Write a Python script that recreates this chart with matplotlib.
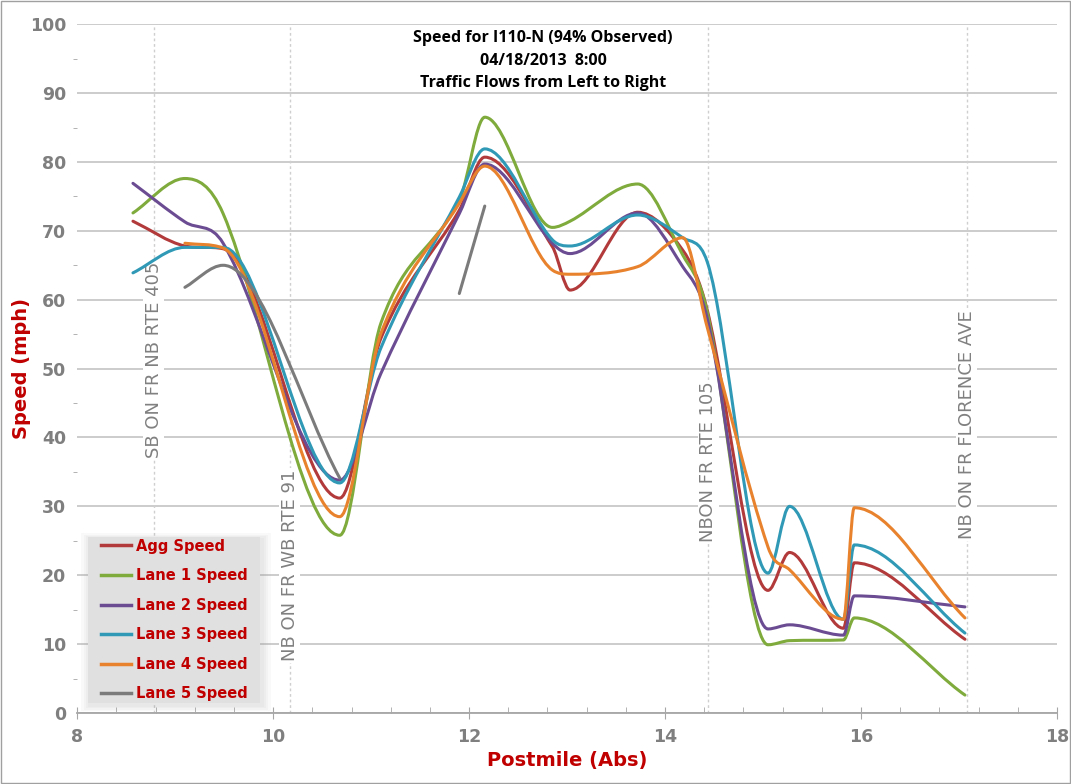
import numpy as np
import matplotlib
matplotlib.use("Agg")
import matplotlib.pyplot as plt
from matplotlib.path import Path
from matplotlib.patches import PathPatch, Rectangle
from matplotlib.lines import Line2D
from matplotlib.ticker import MultipleLocator

# Data (postmile stations, speeds in mph)
postmile = [8.57, 9.1, 9.49, 10.68, 11.1, 11.9, 12.16, 12.85, 13.03, 13.72,
            14.18, 14.43, 15.05, 15.27, 15.82, 15.93, 17.06]
nan = np.nan
agg_speed = [71.4, 67.8, 67.4, 31.2, 54.4, 73.0, 80.7, 67.7, 61.4, 72.7,
             67.2, 58.5, 17.8, 23.3, 12.3, 21.8, 10.7]
lane1_speed = [72.6, 77.6, 72.5, 25.8, 56.6, 74.4, 86.5, 70.5, 71.4, 76.8,
               66.5, 58.2, 9.9, 10.5, 10.6, 13.8, 2.6]
lane2_speed = [76.9, 71.3, 68.2, 33.8, 49.3, 72.5, 79.7, 68.2, 66.7, 72.6,
               64.8, 57.3, 12.2, 12.8, 11.3, 17.0, 15.4]
lane3_speed = [63.9, 67.6, 67.6, 33.4, 53.0, 74.9, 81.9, 68.7, 67.8, 72.3,
               69.0, 65.5, 20.3, 30.0, 13.6, 24.4, 11.6]
lane4_speed = [nan, 68.2, 67.5, 28.5, 55.1, 74.0, 79.4, 64.3, 63.7, 64.8,
               69.0, 56.0, 24.1, 20.8, 13.6, 29.8, 13.8]
lane5_speed = [nan, 61.8, 65.0, 34.1, nan, 60.9, 73.6, nan, nan, nan,
               nan, nan, nan, nan, nan, nan, nan]

series_names = ["Agg Speed", "Lane 1 Speed", "Lane 2 Speed", "Lane 3 Speed",
                "Lane 4 Speed", "Lane 5 Speed"]
series_values = [agg_speed, lane1_speed, lane2_speed, lane3_speed,
                 lane4_speed, lane5_speed]
colors = ["#B23A3A", "#7FAA3C", "#6B4C93", "#2F99B6", "#E8822D", "#7B7B7B"]

ramp_pm = [8.78, 10.17, 14.44, 17.08]
ramp_labels = ["SB ON FR NB RTE 405", "NB ON FR WB RTE 91",
               "NBON FR RTE 105", "NB ON FR FLORENCE AVE"]
ramp_label_y = [37, 7.5, 24.8, 25.2]

title_lines = ["Speed for I110-N (94% Observed)", "04/18/2013  8:00",
               "Traffic Flows from Left to Right"]


def smooth_path(xs, ys):
    # smoothed line: cubic Hermite (as Bezier), flat at local peaks/dips
    n = len(xs)
    d = np.diff(ys) / np.diff(xs)
    m = np.zeros(n)
    m[0], m[-1] = d[0], d[-1]
    for i in range(1, n - 1):
        if d[i - 1] * d[i] <= 0:
            m[i] = 0.0
        else:
            m[i] = (ys[i + 1] - ys[i - 1]) / (xs[i + 1] - xs[i - 1])
            lim = 3 * min(abs(d[i - 1]), abs(d[i]))
            m[i] = np.sign(m[i]) * min(abs(m[i]), lim)
    verts = [(xs[0], ys[0])]
    codes = [Path.MOVETO]
    for i in range(n - 1):
        h = xs[i + 1] - xs[i]
        c1 = (xs[i] + h / 3, ys[i] + m[i] * h / 3)
        c2 = (xs[i + 1] - h / 3, ys[i + 1] - m[i + 1] * h / 3)
        verts += [c1, c2, (xs[i + 1], ys[i + 1])]
        codes += [Path.CURVE4] * 3
    return Path(verts, codes)


grey_txt = "#7F7F7F"
red_txt = "#C00000"

fig = plt.figure(figsize=(10.71, 7.84), dpi=100)
ax = fig.add_axes([0.072, 0.0906, 0.915, 0.8785])

# outer border
fig.patches.append(Rectangle((0.001, 0.001), 0.998, 0.998, transform=fig.transFigure,
                             fill=False, edgecolor="#A0A0A0", linewidth=1))

ax.set_xlim(8, 18)
ax.set_ylim(0, 100)
ax.yaxis.set_major_locator(MultipleLocator(10))
ax.yaxis.set_minor_locator(MultipleLocator(5))
ax.xaxis.set_major_locator(MultipleLocator(2))
ax.xaxis.set_minor_locator(MultipleLocator(0.4))
ax.grid(axis="y", which="major", color="#C8C8C8", linewidth=1.3)
ax.set_axisbelow(True)
for s in ["top", "right", "left"]:
    ax.spines[s].set_visible(False)
ax.spines["bottom"].set_color("#A6A6A6")
ax.spines["bottom"].set_linewidth(1.3)
ax.tick_params(axis="x", which="major", direction="inout", length=8, color="#A6A6A6",
               labelsize=12.5, labelcolor=grey_txt, pad=7)
ax.tick_params(axis="x", which="minor", direction="in", length=4, color="#A6A6A6")
ax.tick_params(axis="y", which="major", length=0, labelsize=12.5, labelcolor=grey_txt, pad=8)
ax.tick_params(axis="y", which="minor", direction="out", length=3, color="#A6A6A6")
for lbl in ax.get_xticklabels() + ax.get_yticklabels():
    lbl.set_fontweight("bold")

ax.set_xlabel("Postmile (Abs)", fontweight="bold", fontsize=14, color=red_txt)
ax.xaxis.set_label_coords(0.5, -0.055)
ax.set_ylabel("Speed (mph)", fontweight="bold", fontsize=14, color=red_txt)
ax.yaxis.set_label_coords(-0.047, 0.5)

# ramp markers
for pm, lab, ly in zip(ramp_pm, ramp_labels, ramp_label_y):
    ax.axvline(pm, color="#CFCFCF", linestyle=(0, (2, 2)), linewidth=1, zorder=1)
    ax.text(pm, ly, lab, rotation=90, ha="center", va="bottom", fontsize=13,
            color="#808080", zorder=2,
            bbox=dict(facecolor="white", edgecolor="none", pad=1))

# speed curves
x = np.array(postmile)
for vals, col in zip(series_values, colors):
    v = np.array(vals, dtype=float)
    idx = np.where(~np.isnan(v))[0]
    runs = np.split(idx, np.where(np.diff(idx) > 1)[0] + 1)
    for r in runs:
        if len(r) < 2:
            continue
        p = smooth_path(x[r], v[r])
        ax.add_patch(PathPatch(p, facecolor="none", edgecolor=col, linewidth=2.2,
                               capstyle="round", joinstyle="round", zorder=3))

# title
for i, t in enumerate(title_lines):
    fig.text(0.507, 0.951 - i * 0.0285, t, ha="center", va="center", fontsize=11.5,
             fontweight="bold", family=["Open Sans", "DejaVu Sans"], color="black")

# legend: grey box with a soft shadow, entries centred inside it
box = (0.0112, 0.0145, 0.1755, 0.241)
for k in range(4):
    pad = 0.0022 * (k + 1)
    ax.add_patch(Rectangle((box[0] - pad + 0.002, box[1] - pad - 0.003),
                           box[2] + 2 * pad, box[3] + 2 * pad,
                           transform=ax.transAxes, facecolor="#9A9A9A",
                           alpha=0.06, edgecolor="none", zorder=4))
ax.add_patch(Rectangle(box[:2], box[2], box[3], transform=ax.transAxes,
                       facecolor="#E0E0E0", edgecolor="none", zorder=4.5))
handles = [Line2D([], [], color=c, linewidth=2.5) for c in colors]
leg = ax.legend(handles, series_names, loc="center", bbox_to_anchor=box,
                frameon=False, handlelength=2.1, handletextpad=0.3, labelspacing=1.0,
                borderaxespad=0, borderpad=0,
                prop={"family": "DejaVu Sans", "weight": "bold", "size": 10.5})
leg.set_zorder(5)
for t in leg.get_texts():
    t.set_color(red_txt)

fig.savefig("out.png", dpi=100)
